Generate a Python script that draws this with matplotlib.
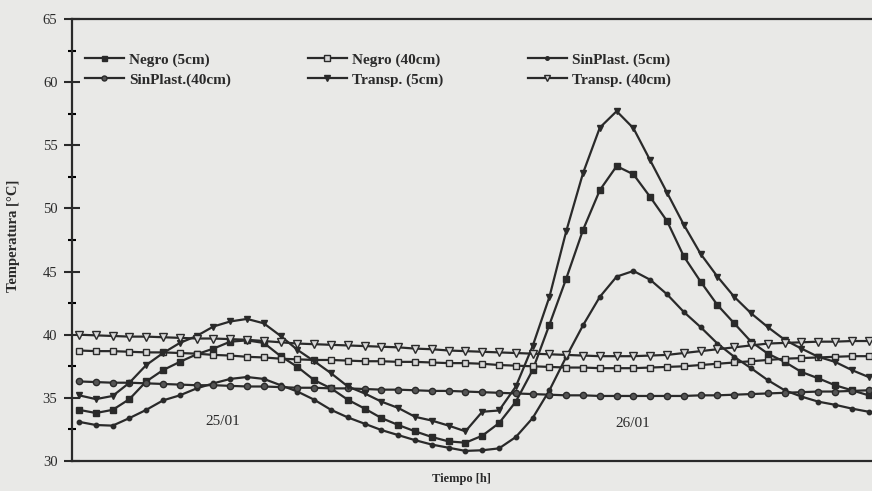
import matplotlib
matplotlib.use("Agg")
import matplotlib.pyplot as plt
import numpy as np

hours = list(range(48))

negro_5 = [34.05, 33.8, 34.05, 34.9, 36.3, 37.2, 37.85, 38.45, 38.9, 39.45, 39.55, 39.35,
           38.3, 37.45, 36.4, 35.75, 34.85, 34.15, 33.4, 32.85, 32.35, 31.9, 31.55, 31.45,
           32.0, 33.0, 34.7, 37.2, 40.8, 44.45, 48.3, 51.45, 53.35, 52.7, 50.9, 49.0,
           46.2, 44.2, 42.35, 40.9, 39.45, 38.5, 37.85, 37.05, 36.55, 36.0, 35.6, 35.2]

negro_40 = [38.75, 38.7, 38.7, 38.65, 38.6, 38.6, 38.55, 38.5, 38.4, 38.35, 38.25, 38.2,
            38.1, 38.05, 38.0, 38.0, 37.95, 37.9, 37.9, 37.85, 37.85, 37.8, 37.75, 37.75,
            37.7, 37.6, 37.55, 37.5, 37.45, 37.4, 37.4, 37.35, 37.35, 37.35, 37.4, 37.45,
            37.5, 37.6, 37.7, 37.8, 37.9, 38.0, 38.1, 38.15, 38.2, 38.25, 38.3, 38.3]

sinplast_5 = [33.1, 32.85, 32.8, 33.4, 34.05, 34.8, 35.2, 35.75, 36.15, 36.5, 36.65, 36.5,
              36.0, 35.5, 34.85, 34.05, 33.45, 32.95, 32.45, 32.05, 31.65, 31.3, 31.05, 30.8,
              30.85, 31.0, 31.9, 33.4, 35.6, 38.25, 40.75, 43.0, 44.6, 45.05, 44.35, 43.2,
              41.8, 40.6, 39.3, 38.25, 37.35, 36.4, 35.6, 35.1, 34.7, 34.45, 34.15, 33.9]

sinplast_40 = [36.3, 36.25, 36.2, 36.2, 36.15, 36.1, 36.05, 36.0, 36.0, 35.95, 35.9, 35.9,
               35.85, 35.8, 35.8, 35.75, 35.75, 35.7, 35.65, 35.65, 35.6, 35.55, 35.55, 35.5,
               35.45, 35.4, 35.35, 35.3, 35.25, 35.2, 35.2, 35.15, 35.15, 35.15, 35.15, 35.15,
               35.15, 35.2, 35.2, 35.25, 35.3, 35.35, 35.4, 35.45, 35.5, 35.5, 35.55, 35.6]

transp_5 = [35.2, 34.9, 35.15, 36.2, 37.6, 38.55, 39.35, 39.9, 40.65, 41.05, 41.25, 40.9,
            39.9, 38.8, 37.9, 36.95, 35.9, 35.35, 34.7, 34.2, 33.5, 33.2, 32.8, 32.35,
            33.9, 34.0, 35.9, 39.1, 43.0, 48.2, 52.8, 56.4, 57.7, 56.35, 53.8, 51.25,
            48.7, 46.4, 44.6, 43.0, 41.7, 40.6, 39.6, 38.9, 38.25, 37.85, 37.2, 36.65]

transp_40 = [40.0, 39.95, 39.9, 39.85, 39.85, 39.8, 39.75, 39.7, 39.7, 39.65, 39.6, 39.5,
             39.4, 39.3, 39.25, 39.2, 39.15, 39.1, 39.05, 39.0, 38.9, 38.85, 38.75, 38.7,
             38.65, 38.6, 38.55, 38.5, 38.45, 38.4, 38.35, 38.3, 38.3, 38.3, 38.35, 38.4,
             38.55, 38.7, 38.85, 39.0, 39.15, 39.3, 39.35, 39.4, 39.45, 39.45, 39.5, 39.5]

day_labels = ["25/01", "26/01"]
day_pos = [(8.57, 33.1), (32.98, 33.0)]

BG = "#e9e9e7"
LC = "#2a2a2a"
serif = ["Liberation Serif", "DejaVu Serif"]

fig = plt.figure(figsize=(8.72, 4.91), dpi=100, facecolor=BG)
ax = fig.add_axes([72/872, 30/491, 1 - 72/872, (461 - 19)/491])
ax.set_facecolor(BG)

styles = {
    "Negro (5cm)": dict(marker="s", ms=4.5, mfc=LC, mec=LC),
    "Negro (40cm)": dict(marker="s", ms=5, mfc="#d8d8d8", mec=LC, mew=1.0),
    "SinPlast. (5cm)": dict(marker="o", ms=3.2, mfc=LC, mec=LC),
    "SinPlast.(40cm)": dict(marker="o", ms=4.5, mfc="#555555", mec=LC),
    "Transp. (5cm)": dict(marker="v", ms=5, mfc=LC, mec=LC),
    "Transp. (40cm)": dict(marker="v", ms=5.5, mfc="#d8d8d8", mec=LC, mew=1.0),
}
series = {
    "Negro (5cm)": negro_5,
    "Negro (40cm)": negro_40,
    "SinPlast. (5cm)": sinplast_5,
    "SinPlast.(40cm)": sinplast_40,
    "Transp. (5cm)": transp_5,
    "Transp. (40cm)": transp_40,
}
handles = {}
for name, vals in series.items():
    ln, = ax.plot(hours, vals, color=LC, lw=1.6, **styles[name])
    handles[name] = ln

ax.set_xlim(-0.42, 47.2)
ax.set_ylim(30, 65)
ax.set_yticks(np.arange(30, 66, 5))
ax.set_yticks(np.arange(32.5, 65, 5), minor=True)
ax.set_xticks([])
ax.tick_params(axis="y", which="major", direction="inout", length=11, width=1.5,
               pad=5, labelsize=10.5, colors=LC)
ax.tick_params(axis="y", which="minor", direction="inout", length=6, width=1.5)
for lab in ax.get_yticklabels():
    lab.set_family(serif)
for s in ["left", "top", "bottom"]:
    ax.spines[s].set_linewidth(1.6)
    ax.spines[s].set_color(LC)
ax.spines["right"].set_visible(False)

for txt, (x, y) in zip(day_labels, day_pos):
    ax.text(x, y, txt, ha="center", va="center", fontsize=11, family=serif, color=LC)

fig.text(461/872, 1 - 479/491, "Tiempo [h]", ha="center", va="center",
         fontsize=9, fontweight="bold", family=serif, color=LC)
fig.text(13/872, 1 - 236/491, "Temperatura [°C]", ha="center", va="center",
         rotation=90, fontsize=10.5, fontweight="bold", family=serif, color=LC)

cols = [["Negro (5cm)", "SinPlast.(40cm)"],
        ["Negro (40cm)", "Transp. (5cm)"],
        ["SinPlast. (5cm)", "Transp. (40cm)"]]
col_x = [85, 308, 528]
for names, x0 in zip(cols, col_x):
    leg = fig.legend([handles[n] for n in names], names, loc="upper left",
                     bbox_to_anchor=(x0/872, 1 - 53/491), frameon=False,
                     borderpad=0, borderaxespad=0, handlelength=2.55,
                     handletextpad=0.33, labelspacing=0.38, markerscale=0.8,
                     prop=dict(family=serif, weight="bold", size=11))
    for t in leg.get_texts():
        t.set_color(LC)

fig.savefig("out.png", dpi=100, facecolor=BG)
